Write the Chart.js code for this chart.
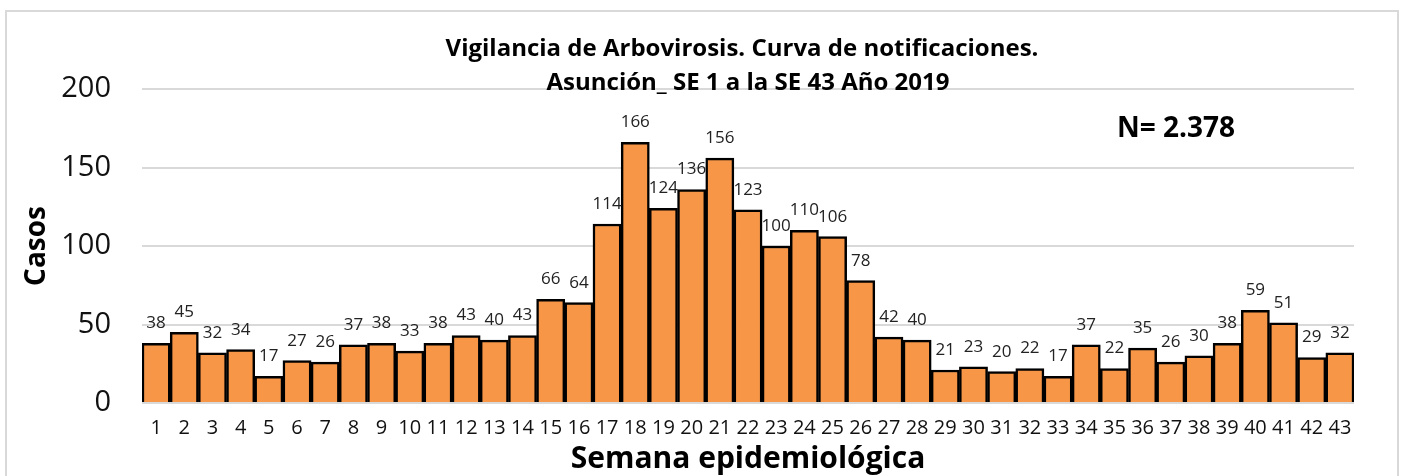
<!DOCTYPE html>
<html lang="es">
<head>
<meta charset="utf-8">
<title>Vigilancia de Arbovirosis - Asunción 2019</title>
<script src="https://cdn.jsdelivr.net/npm/chart.js@4"></script>
<style>
  html, body { margin: 0; padding: 0; background: #fff; }
  #wrap { position: relative; width: 1403px; height: 476px; overflow: hidden; }
  #frame {
    position: absolute; left: 5px; top: 10px; width: 1394px; height: 480px;
    border: 2px solid #d9d9d9; box-sizing: border-box; pointer-events: none;
  }
</style>
</head>
<body>
<div id="wrap">
  <canvas id="chart" width="1403" height="476"></canvas>
  <div id="frame"></div>
</div>
<script>
'use strict';

// ── data ─────────────────────────────────────
const weeks = ['1','2','3','4','5','6','7','8','9','10','11','12','13','14','15',
  '16','17','18','19','20','21','22','23','24','25','26','27','28','29','30',
  '31','32','33','34','35','36','37','38','39','40','41','42','43'];
const cases = [38, 45, 32, 34, 17, 27, 26, 37, 38, 33, 38, 43, 40, 43, 66,
  64, 114, 166, 124, 136, 156, 123, 100, 110, 106, 78, 42, 40, 21, 23,
  20, 22, 17, 37, 22, 35, 26, 30, 38, 59, 51, 29, 32];
const titleLines = ['Vigilancia de Arbovirosis. Curva de notificaciones.',
  'Asunción_ SE 1 a la SE 43 Año 2019'];
const totalLabel = 'N= 2.378';

const FONT = "'Open Sans', 'Noto Sans', sans-serif";

// value labels above each bar
const barLabels = {
  id: 'barLabels',
  afterDatasetsDraw(chart) {
    const { ctx } = chart;
    const meta = chart.getDatasetMeta(0);
    ctx.save();
    ctx.font = `17px ${FONT}`;
    ctx.fillStyle = '#222';
    ctx.textAlign = 'center';
    ctx.textBaseline = 'alphabetic';
    meta.data.forEach((bar, i) => {
      ctx.fillText(String(cases[i]), bar.x, bar.y - 15);
    });
    ctx.restore();
  }
};

// two-line title laid over the top of the plot + N annotation
const chartText = {
  id: 'chartText',
  afterDraw(chart) {
    const { ctx } = chart;
    ctx.save();
    ctx.fillStyle = '#000';
    ctx.textAlign = 'center';
    ctx.textBaseline = 'alphabetic';
    ctx.font = `bold 24px ${FONT}`;
    ctx.fillText(titleLines[0], 742, 56);
    ctx.fillText(titleLines[1], 748, 90);
    ctx.font = `bold 28px ${FONT}`;
    ctx.fillText(totalLabel, 1176, 137);
    ctx.restore();
  }
};

new Chart(document.getElementById('chart'), {
  type: 'bar',
  data: {
    labels: weeks,
    datasets: [{
      data: cases,
      backgroundColor: '#F79646',
      borderColor: '#000',
      borderWidth: 2.5,
      borderSkipped: 'bottom',
      barPercentage: 1,
      categoryPercentage: 1,
    }]
  },
  options: {
    responsive: false,
    animation: false,
    layout: { padding: { top: 89, right: 49, left: 0, bottom: 0 } },
    plugins: {
      legend: { display: false },
      tooltip: { enabled: false },
    },
    scales: {
      x: {
        grid: { display: false, drawTicks: false },
        border: { display: false },
        ticks: {
          color: '#111', font: { family: FONT, size: 20 },
          padding: 13, maxRotation: 0, autoSkip: false,
        },
        title: {
          display: true, text: 'Semana epidemiológica', color: '#000',
          font: { family: FONT, size: 30, weight: 'bold' },
          padding: { top: 0, bottom: -1 },
        },
        afterFit(scale) { scale.height = 73; },
      },
      y: {
        min: 0, max: 200,
        grid: { color: '#d9d9d9', lineWidth: 2, drawTicks: false },
        border: { display: false },
        ticks: {
          stepSize: 50, color: '#111', font: { family: FONT, size: 29 },
          padding: 31,
        },
        title: {
          display: true, text: 'Casos', color: '#000',
          font: { family: FONT, size: 28, weight: 'bold' },
          padding: { top: 20, bottom: 0 },
        },
        afterFit(scale) { scale.width = 142; },
      }
    }
  },
  plugins: [barLabels, chartText]
});
</script>
</body>
</html>
